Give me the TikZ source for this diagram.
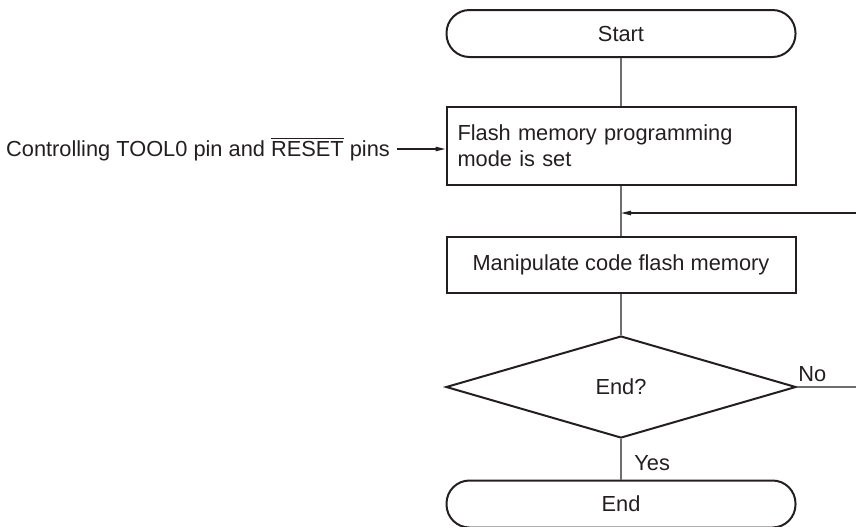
\documentclass[tikz,border=0pt]{standalone}
\usepackage{fontspec}
\setmainfont{Liberation Sans}
\usetikzlibrary{arrows.meta,shapes.geometric}
\definecolor{ink}{HTML}{231F20}
\definecolor{flowgray}{HTML}{6D6E71}
\tikzset{
  box/.style={draw=ink, line width=1pt, text=ink, minimum width=174.5pt, inner sep=0pt},
  term/.style={box, minimum height=23.5pt, rounded corners=11.5pt},
  flow/.style={draw=flowgray, line width=0.7pt},
  tip/.style={-{Triangle[length=5pt,width=2.2pt]}, draw=ink},
  lbl/.style={text=ink}
}
\begin{document}
\begin{tikzpicture}[x=0.5pt, y=-0.5pt, font=\fontsize{10.9}{13}\selectfont]
\useasboundingbox (0,0) rectangle (856,526);
% terminals and steps
\node[term] (start) at (621,33.5) {Start};
\node[box, minimum height=39pt, text width=163.5pt, inner xsep=5.5pt, align=left] (flash) at (621,146) {Flash memory programming\\mode is set};
\node[box, minimum height=28pt] (manip) at (621,265) {Manipulate code flash memory};
\node[draw=ink, line width=1pt, text=ink, diamond, inner sep=0pt, minimum width=175pt, minimum height=51pt] (isend) at (621,387) {End?};
\node[term] (stop) at (621,504) {End};
% outside texts
\node[lbl] (ctrl) at (198,149) {Controlling TOOL0 pin and $\overline{\mbox{RESET}}$ pins};
\coordinate (back) at (856,213);
\coordinate (noout) at (856,387);
% connectors
\draw[flow] (start.south) -- (flash.north);
\draw[flow] (flash.south) -- (manip.north);
\draw[flow] (manip.south) -- (isend.north);
\draw[flow] (isend.south) -- (stop.north) node[lbl, midway, right, xshift=3pt, yshift=-2pt] {Yes};
\draw[flow] (isend.east) -- (noout) node[lbl, pos=0, above right, xshift=-3pt, yshift=-1pt] {No};
\draw[flow, tip] (back) -- (back -| flash.south);
\draw[flow, tip] (ctrl.east) -- (ctrl.east -| flash.west);
\end{tikzpicture}
\end{document}
